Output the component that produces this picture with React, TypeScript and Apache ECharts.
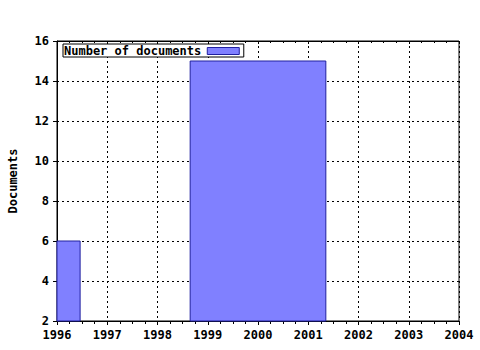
import React, { useEffect, useRef } from "react";
import * as echarts from "echarts";

const seriesName = "Number of documents";
const yAxisName = "Documents";
// [start year, end year, documents]
const barStarts = [1996, 1998.65];
const barEnds = [1996.46, 2001.35];
const barValues = [6, 15];
const xMin = 1996;
const xMax = 2004;
const yMin = 2;
const yMax = 16;

const FONT = "DejaVu Sans Mono";

export default function App() {
  const ref = useRef<HTMLDivElement>(null);
  useEffect(() => {
    if (!ref.current) return;
    const chart = echarts.init(ref.current, null, { renderer: "svg" });
    const data = barValues.map((v, i) => [barStarts[i], barEnds[i], v]);
    const labelStyle = { color: "#000", fontFamily: FONT, fontWeight: "bold" as const, fontSize: 12 };
    chart.setOption({
      animation: false,
      backgroundColor: "#fff",
      grid: {
        left: 57, right: 21, top: 41, bottom: 29,
        outerBoundsMode: "none",
        containLabel: false,
        show: true, borderColor: "#000", borderWidth: 1, backgroundColor: "transparent",
      },
      legend: {
        show: true,
        left: 63,
        top: 44,
        align: "right",
        icon: "rect",
        itemWidth: 32,
        itemHeight: 7,
        padding: [1, 4, 0, 1],
        borderColor: "#000",
        borderWidth: 1,
        borderRadius: 0,
        backgroundColor: "#fff",
        textStyle: { ...labelStyle, padding: [0, 1, 0, 0] },
        itemStyle: { color: "#8080ff", borderColor: "#2020a0", borderWidth: 1 },
        data: [seriesName],
      },
      xAxis: [
        {
          type: "value",
          min: xMin,
          max: xMax,
          interval: 1,
          position: "bottom",
          axisLine: { show: true, lineStyle: { color: "#000", width: 1 } },
          axisTick: { show: true, length: 4, lineStyle: { color: "#000" } },
          minorTick: { show: true, splitNumber: 4, length: 3, lineStyle: { color: "#000" } },
          axisLabel: { ...labelStyle, margin: 8, formatter: (v: number) => String(v) },
          splitLine: { show: true, lineStyle: { color: "#000", type: [2, 3], width: 1 } },
        },
        {
          type: "value",
          min: xMin,
          max: xMax,
          interval: 1,
          position: "top",
          axisLine: { show: true, lineStyle: { color: "#000", width: 1 } },
          axisTick: { show: true, inside: true, length: 3, lineStyle: { color: "#000" } },
          minorTick: { show: true, splitNumber: 4, length: 2, lineStyle: { color: "#000" } },
          axisLabel: { show: false },
          splitLine: { show: false },
        },
      ],
      yAxis: {
        type: "value",
        min: yMin,
        max: yMax,
        interval: 2,
        name: yAxisName,
        nameLocation: "middle",
        nameGap: 38,
        nameTextStyle: { ...labelStyle },
        axisLine: { show: true, lineStyle: { color: "#000", width: 1 } },
        axisTick: { show: true, length: 4, lineStyle: { color: "#000" } },
        axisLabel: { ...labelStyle, margin: 8 },
        splitLine: { show: true, lineStyle: { color: "#000", type: [2, 3], width: 1 } },
      },
      series: [
        {
          type: "custom",
          name: seriesName,
          xAxisIndex: 0,
          encode: { x: [0, 1], y: 2 },
          itemStyle: { color: "#8080ff", borderColor: "#2020a0" },
          renderItem: (params: any, api: any) => {
            const p0 = api.coord([api.value(0), api.value(2)]);
            const p1 = api.coord([api.value(1), yMin]);
            return {
              type: "rect",
              shape: { x: p0[0], y: p0[1], width: p1[0] - p0[0], height: p1[1] - p0[1] },
              style: { fill: "#8080ff", stroke: "#2020a0", lineWidth: 1 },
            };
          },
          data,
          z: 1,
        },
      ],
    });
    return () => chart.dispose();
  }, []);
  return <div ref={ref} style={{ position: "absolute", left: 0, top: 0, width: 480, height: 350 }} />;
}
